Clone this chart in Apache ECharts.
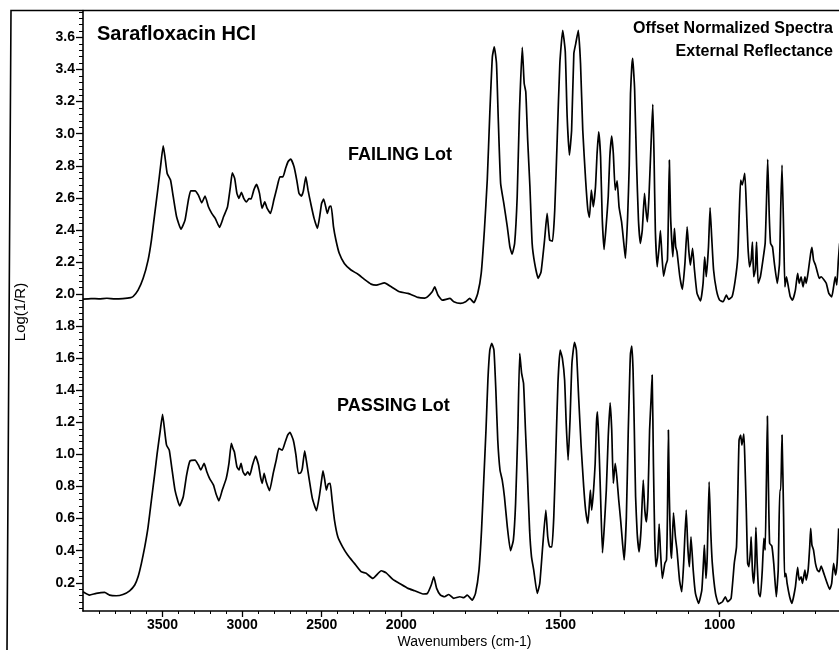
<!DOCTYPE html>
<html>
<head>
<meta charset="utf-8">
<script src="https://cdn.jsdelivr.net/npm/echarts@6/dist/echarts.min.js"></script>
<style>
html,body{margin:0;padding:0;background:#fff;}
#chart{width:839px;height:650px;}
</style>
</head>
<body>
<div id="chart"></div>
<script>
// ---- data ----
const failWn = [4000,3950,3900,3850,3800,3750,3700,3685,3654,3622,3591,3570,3549,3528,3513,3496,3485,3471,3450,3433,3412,3384,3359,3338,3323,3296,3275,3254,3233,3212,3191,3169,3142,3117,3092,3074,3062,3047,3033,3020,3005,2990,2973,2957,2944,2927,2910,2891,2875,2858,2843,2822,2801,2780,2763,2744,2727,2712,2695,2674,2657,2643,2628,2616,2600,2586,2569,2548,2527,2510,2501,2488,2475,2465,2452,2441,2426,2411,2390,2358,2316,2274,2232,2190,2158,2106,2063,2011,1979,1948,1927,1918,1903,1895,1885,1871,1847,1835,1814,1798,1785,1772,1760,1749,1739,1730,1722,1714,1708,1701,1696,1688,1678,1667,1659,1652,1644,1636,1629,1620,1614,1609,1603,1596,1589,1581,1570,1561,1550,1542,1534,1525,1518,1510,1502,1493,1485,1479,1472,1465,1458,1452,1444,1437,1430,1421,1414,1409,1403,1397,1390,1385,1380,1374,1369,1363,1356,1350,1345,1339,1334,1328,1322,1316,1308,1301,1296,1289,1284,1280,1276,1273,1269,1267,1261,1255,1249,1243,1236,1231,1227,1222,1215,1210,1206,1202,1196,1190,1186,1181,1176,1169,1164,1161,1158,1154,1147,1142,1138,1134,1125,1117,1109,1102,1097,1092,1085,1079,1071,1060,1052,1047,1042,1035,1030,1025,1019,1010,1000,989,979,972,961,951,943,938,934,929,921,916,911,906,901,897,893,888,884,879,872,864,857,853,849,844,840,834,828,819,812,808,804,799,795,790,784,778,771,762,755,750,744,738,732,728,721,714,710,705,699,692,687,681,673,665,657,648,642,637,632,627,623];
const failVal = [1.968,1.972,1.970,1.974,1.970,1.972,1.978,1.985,2.025,2.098,2.212,2.337,2.503,2.669,2.794,2.924,2.856,2.752,2.711,2.607,2.482,2.405,2.461,2.586,2.644,2.644,2.617,2.569,2.611,2.544,2.503,2.472,2.416,2.482,2.544,2.669,2.756,2.721,2.628,2.597,2.634,2.597,2.575,2.595,2.593,2.648,2.684,2.628,2.534,2.575,2.534,2.503,2.586,2.669,2.731,2.731,2.784,2.825,2.842,2.794,2.711,2.628,2.611,2.640,2.731,2.648,2.565,2.472,2.410,2.503,2.565,2.592,2.544,2.503,2.544,2.548,2.419,2.337,2.254,2.191,2.150,2.125,2.092,2.062,2.056,2.070,2.045,2.014,2.004,1.979,1.975,1.983,2.014,2.045,1.994,1.962,1.973,1.952,1.942,1.952,1.973,1.946,2.004,2.129,2.399,2.711,3.127,3.479,3.542,3.438,3.127,2.690,2.565,2.419,2.295,2.249,2.316,2.607,3.127,3.538,3.313,3.261,2.960,2.669,2.316,2.191,2.098,2.139,2.337,2.503,2.337,2.330,2.524,2.981,3.438,3.645,3.513,3.105,2.866,3.022,3.500,3.562,3.645,3.438,3.022,2.711,2.524,2.478,2.648,2.544,2.669,2.877,3.012,2.856,2.482,2.278,2.440,2.607,2.856,2.985,2.877,2.648,2.706,2.544,2.450,2.316,2.222,2.482,2.800,3.250,3.420,3.469,3.350,3.272,2.815,2.461,2.316,2.399,2.628,2.513,2.450,2.607,2.960,3.183,2.856,2.399,2.170,2.295,2.395,2.232,2.112,2.181,2.212,2.482,2.835,2.482,2.232,2.410,2.295,2.264,2.108,2.029,2.191,2.419,2.274,2.181,2.285,2.150,2.004,1.958,2.067,2.232,2.108,2.295,2.538,2.357,2.150,2.025,1.962,1.952,1.994,1.967,1.983,2.087,2.232,2.524,2.711,2.680,2.752,2.544,2.295,2.170,2.212,2.324,2.108,2.150,2.324,2.067,2.108,2.212,2.316,2.565,2.840,2.482,2.316,2.295,2.191,2.067,2.191,2.544,2.804,2.399,2.045,2.108,2.045,1.983,1.962,2.025,2.129,2.067,2.108,2.045,2.108,2.067,2.150,2.254,2.291,2.212,2.181,2.129,2.098,2.108,2.091,2.067,2.004,1.983,2.045,2.108,2.057,2.212,2.316];

const passWn = [4000,3959,3917,3864,3833,3791,3749,3707,3675,3654,3633,3612,3591,3570,3549,3534,3517,3500,3485,3475,3458,3443,3422,3393,3370,3349,3328,3296,3275,3260,3239,3222,3205,3180,3165,3146,3125,3100,3083,3068,3058,3049,3033,3020,3007,2995,2980,2965,2952,2935,2916,2897,2885,2874,2862,2849,2828,2805,2786,2769,2748,2729,2714,2700,2679,2662,2647,2632,2622,2607,2594,2578,2559,2533,2514,2501,2492,2481,2471,2460,2447,2435,2420,2399,2369,2337,2295,2253,2221,2179,2126,2095,2053,2011,1979,1958,1932,1918,1906,1898,1889,1877,1864,1851,1835,1816,1804,1793,1777,1767,1756,1748,1741,1734,1728,1722,1716,1709,1703,1697,1690,1683,1676,1667,1657,1648,1641,1634,1628,1622,1616,1610,1604,1597,1591,1584,1573,1565,1556,1546,1540,1534,1527,1521,1515,1508,1501,1494,1487,1482,1476,1470,1464,1456,1450,1443,1435,1427,1421,1414,1409,1406,1402,1396,1391,1387,1384,1380,1374,1368,1363,1356,1350,1344,1339,1334,1328,1323,1317,1311,1305,1300,1293,1287,1282,1280,1276,1272,1268,1264,1259,1253,1247,1240,1235,1230,1225,1220,1215,1212,1208,1204,1200,1195,1190,1186,1180,1172,1167,1164,1161,1158,1154,1151,1145,1139,1134,1126,1119,1113,1105,1100,1095,1090,1083,1076,1066,1056,1051,1048,1043,1039,1033,1028,1023,1013,1003,991,982,975,964,954,947,943,939,934,930,924,921,916,912,908,903,901,897,893,889,886,882,877,872,866,861,857,853,850,847,843,836,830,822,816,811,808,804,799,796,792,788,780,773,762,755,750,744,740,736,732,728,722,717,714,710,705,699,693,687,681,676,671,662,654,648,642,636,631,626];
const passVal = [0.144,0.123,0.134,0.140,0.123,0.119,0.127,0.150,0.186,0.237,0.321,0.424,0.549,0.716,0.882,1.007,1.131,1.250,1.131,1.058,1.027,0.923,0.778,0.680,0.736,0.871,0.959,0.965,0.934,0.903,0.944,0.892,0.851,0.809,0.757,0.711,0.778,0.851,0.944,1.069,1.038,1.017,0.923,0.903,0.944,0.892,0.871,0.892,0.871,0.934,0.990,0.934,0.861,0.820,0.882,0.830,0.774,0.882,0.965,1.038,1.027,1.079,1.121,1.138,1.090,0.996,0.882,0.886,0.913,1.023,0.944,0.840,0.726,0.649,0.747,0.840,0.898,0.840,0.778,0.815,0.820,0.716,0.591,0.487,0.424,0.373,0.321,0.269,0.259,0.227,0.275,0.262,0.221,0.196,0.165,0.150,0.130,0.134,0.186,0.237,0.165,0.123,0.113,0.127,0.103,0.113,0.107,0.123,0.092,0.134,0.279,0.528,0.840,1.152,1.464,1.650,1.693,1.650,1.401,1.089,0.903,0.840,0.736,0.549,0.400,0.466,0.695,1.152,1.630,1.505,1.443,1.152,0.882,0.528,0.362,0.279,0.134,0.196,0.424,0.653,0.487,0.424,0.424,0.611,0.986,1.443,1.650,1.599,1.464,1.194,0.965,1.214,1.568,1.699,1.650,1.360,1.048,0.798,0.653,0.570,0.695,0.778,0.653,0.778,0.944,1.194,1.266,1.110,0.736,0.387,0.528,0.778,1.110,1.322,1.152,0.820,0.944,0.861,0.716,0.591,0.446,0.342,0.611,1.152,1.526,1.630,1.676,1.526,1.152,0.736,0.508,0.393,0.528,0.840,0.653,0.580,0.736,1.152,1.360,1.495,0.944,0.487,0.300,0.362,0.566,0.404,0.227,0.321,0.342,0.611,1.152,0.736,0.424,0.352,0.636,0.487,0.404,0.217,0.144,0.321,0.653,0.424,0.300,0.487,0.279,0.134,0.072,0.154,0.321,0.435,0.227,0.362,0.830,0.528,0.321,0.134,0.067,0.082,0.113,0.082,0.103,0.321,0.424,0.736,1.089,1.121,1.058,1.127,0.986,0.633,0.321,0.300,0.404,0.487,0.279,0.196,0.321,0.545,0.321,0.134,0.113,0.279,0.477,0.404,0.840,1.239,0.840,0.446,0.429,0.321,0.113,0.279,0.778,0.778,1.121,0.611,0.237,0.259,0.196,0.113,0.072,0.175,0.296,0.217,0.237,0.196,0.237,0.279,0.217,0.279,0.424,0.539,0.435,0.404,0.321,0.279,0.269,0.304,0.279,0.248,0.196,0.159,0.196,0.321,0.248,0.321,0.539];

const xMajorTicks = [3500, 3000, 2500, 2000, 1500, 1000];
const xMinorTicks = [3900,3800,3700,3600,3400,3300,3200,3100,2900,2800,2700,2600,2400,2300,2200,2100,1900,1800,1700,1600,1400,1300,1200,1100,900,800,700];
const yMajorTicks = [0.2,0.4,0.6,0.8,1.0,1.2,1.4,1.6,1.8,2.0,2.2,2.4,2.6,2.8,3.0,3.2,3.4,3.6];
const yMinorStep = 0.04;

// split-scale x axis: region above 2000 cm-1 is compressed 2x
function warp(w) { return w >= 2000 ? 2000 + (w - 2000) / 2 : w; }
function unwarp(p) { return p >= 2000 ? 2000 + (p - 2000) * 2 : p; }

const yMinorTicks = [];
for (let k = 1; k <= 94; k++) {
  if (k % 5 !== 0) yMinorTicks.push(+(k * yMinorStep).toFixed(2));
}

const X_MIN = 625, X_MAX = 3000, Y_MIN = 0.024, Y_MAX = 3.768;

const chart = echarts.init(document.getElementById('chart'), null, {renderer: 'canvas'});
const axisCommon = {
  type: 'value', inverse: true, min: X_MIN, max: X_MAX, position: 'bottom',
  splitLine: {show: false}
};
const yCommon = {type: 'value', min: Y_MIN, max: Y_MAX, position: 'left', splitLine: {show: false}};

chart.setOption({
  animation: false,
  backgroundColor: '#fff',
  grid: {left: 83, right: 0, top: 10.5, bottom: 39, containLabel: false, outerBoundsMode: 'none'},
  xAxis: [
    Object.assign({}, axisCommon, {
      axisLine: {show: true, onZero: false, lineStyle: {color: '#000', width: 1.6}},
      axisTick: {show: true, customValues: xMajorTicks.map(warp), length: 6, lineStyle: {color: '#000', width: 1.3}},
      axisLabel: {show: true, customValues: xMajorTicks.map(warp), formatter: v => String(Math.round(unwarp(v))),
        color: '#000', fontFamily: 'Liberation Sans, Arial, sans-serif', fontWeight: 'bold', fontSize: 14, margin: 7}
    }),
    Object.assign({}, axisCommon, {
      axisLine: {show: false, onZero: false},
      axisTick: {show: true, customValues: xMinorTicks.map(warp), length: 3, lineStyle: {color: '#000', width: 1}},
      axisLabel: {show: false}
    })
  ],
  yAxis: [
    Object.assign({}, yCommon, {
      axisLine: {show: true, onZero: false, lineStyle: {color: '#000', width: 1.6}},
      axisTick: {show: true, customValues: yMajorTicks, length: 7, lineStyle: {color: '#000', width: 1.3}},
      axisLabel: {show: true, customValues: yMajorTicks, formatter: v => v.toFixed(1),
        color: '#000', fontFamily: 'Liberation Sans, Arial, sans-serif', fontWeight: 'bold', fontSize: 14, margin: 8}
    }),
    Object.assign({}, yCommon, {
      axisLine: {show: false, onZero: false},
      axisTick: {show: true, customValues: yMinorTicks, length: 4, lineStyle: {color: '#000', width: 1}},
      axisLabel: {show: false}
    })
  ],
  series: [
    {
      name: 'FAILING Lot', type: 'line', xAxisIndex: 0, yAxisIndex: 0,
      data: failWn.map((w, i) => [warp(w), failVal[i]]),
      showSymbol: false, symbol: 'none', smooth: 0.15,
      lineStyle: {color: '#000', width: 1.7}
    },
    {
      name: 'PASSING Lot', type: 'line', xAxisIndex: 0, yAxisIndex: 0,
      data: passWn.map((w, i) => [warp(w), passVal[i]]),
      showSymbol: false, symbol: 'none', smooth: 0.15,
      lineStyle: {color: '#000', width: 1.7}
    }
  ],
  graphic: [
    {type: 'polyline', shape: {points: [[839, 10.5], [11, 10.5], [7, 650]]}, style: {stroke: '#000', lineWidth: 1.6, fill: null}, silent: true},
    {type: 'text', left: 97, top: 24, style: {text: 'Sarafloxacin HCl', font: 'bold 20px "Liberation Sans", Arial, sans-serif', fill: '#000'}},
    {type: 'text', right: 6, top: 21, style: {text: 'Offset Normalized Spectra', font: 'bold 16px "Liberation Sans", Arial, sans-serif', fill: '#000', align: 'right'}},
    {type: 'text', right: 6, top: 44, style: {text: 'External Reflectance', font: 'bold 16px "Liberation Sans", Arial, sans-serif', fill: '#000', align: 'right'}},
    {type: 'text', left: 348, top: 146, style: {text: 'FAILING Lot', font: 'bold 18px "Liberation Sans", Arial, sans-serif', fill: '#000'}},
    {type: 'text', left: 337, top: 397, style: {text: 'PASSING Lot', font: 'bold 18px "Liberation Sans", Arial, sans-serif', fill: '#000'}},
    {type: 'text', x: 21, y: 312, rotation: Math.PI / 2, style: {text: 'Log(1/R)', font: '15px "Liberation Sans", Arial, sans-serif', fill: '#000', align: 'center', verticalAlign: 'middle'}},
    {type: 'text', x: 464.5, y: 642, style: {text: 'Wavenumbers (cm-1)', font: '14px "Liberation Sans", Arial, sans-serif', fill: '#000', align: 'center', verticalAlign: 'middle'}}
  ]
});
</script>
</body>
</html>
